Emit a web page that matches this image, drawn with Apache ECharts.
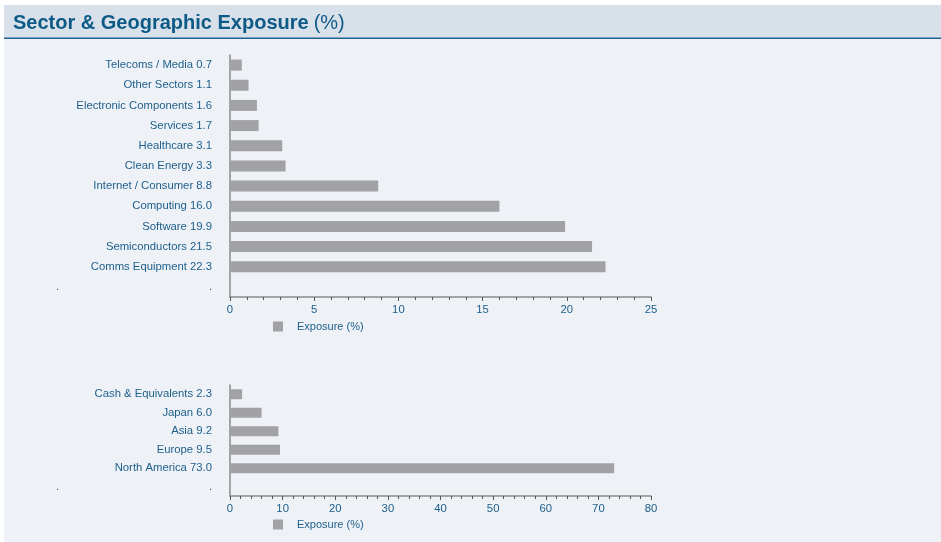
<!DOCTYPE html>
<html>
<head>
<meta charset="utf-8">
<script src="https://cdn.jsdelivr.net/npm/echarts@6/dist/echarts.min.js"></script>
<style>
  html, body { margin: 0; padding: 0; background: #fff; }
  #chart { width: 941px; height: 542px; }
</style>
</head>
<body>
<div id="chart"></div>
<script>
const sectorNames = ['Telecoms / Media', 'Other Sectors', 'Electronic Components', 'Services', 'Healthcare',
    'Clean Energy', 'Internet / Consumer', 'Computing', 'Software', 'Semiconductors', 'Comms Equipment'];
const sectorValues = [0.7, 1.1, 1.6, 1.7, 3.1, 3.3, 8.8, 16.0, 19.9, 21.5, 22.3];

const regionNames = ['Cash & Equivalents', 'Japan', 'Asia', 'Europe', 'North America'];
const regionValues = [2.3, 6.0, 9.2, 9.5, 73.0];

const textColor = '#1d5f8b';
const barColor = '#a2a1a6';
const axisColor = '#8a8a8a';
const font = 'Liberation Sans, Arial, sans-serif';

// label text is "name value"; trailing blank category shows the two stray dots
const makeCats = (names, vals) => names.map((n, i) => n + ' ' + vals[i].toFixed(1)).concat(['']);

const yAxisFor = (gridIndex, cats) => ({
    type: 'category',
    gridIndex: gridIndex,
    inverse: true,
    data: cats,
    axisLine: { lineStyle: { color: axisColor, width: 1.5 } },
    axisTick: { show: false },
    axisLabel: {
        color: textColor,
        fontSize: 11.3,
        fontFamily: font,
        margin: 18,
        formatter: v => v === '' ? '{d|.}{g|}{d|.}' : v,
        rich: {
            d: { color: textColor, fontSize: 11 },
            g: { width: 150 }
        }
    }
});

const xAxisFor = (gridIndex, max, interval) => ({
    type: 'value',
    gridIndex: gridIndex,
    min: 0,
    max: max,
    interval: interval,
    splitLine: { show: false },
    axisLine: { show: true, lineStyle: { color: axisColor, width: 1.5 } },
    axisTick: { show: true, length: 4, lineStyle: { color: '#555' } },
    minorTick: { show: true, splitNumber: 5, length: 3, lineStyle: { color: '#555' } },
    axisLabel: { color: textColor, fontSize: 11.3, fontFamily: font, margin: 7 }
});

const legendFor = (top) => ({
    top: top,
    left: 268,
    data: ['Exposure (%)'],
    itemWidth: 10,
    itemHeight: 10,
    itemGap: 10,
    selectedMode: false,
    icon: 'rect',
    textStyle: { color: textColor, fontSize: 11, fontFamily: font, padding: [0, 0, 0, 9] }
});

const myChart = echarts.init(document.getElementById('chart'));
myChart.setOption({
    backgroundColor: '#ffffff',
    animation: false,
    graphic: [
        { type: 'rect', shape: { x: 4, y: 5, width: 937, height: 537 }, style: { fill: '#eef1f6' }, z: -10 },
        { type: 'rect', shape: { x: 4, y: 5, width: 937, height: 33 }, style: { fill: '#d8e1ea' }, z: -9 },
        { type: 'rect', shape: { x: 4, y: 37.5, width: 937, height: 1.5 }, style: { fill: '#1f6392' }, z: -8 }
    ],
    title: {
        text: '{b|Sector & Geographic Exposure} {n|(%)}',
        left: 8,
        top: 8,
        textStyle: {
            fontWeight: 'normal',
            rich: {
                b: { fontSize: 20, fontWeight: 'bold', color: '#0e5a87', fontFamily: font },
                n: { fontSize: 20, fontWeight: 'normal', color: '#0e5a87', fontFamily: font }
            }
        }
    },
    legend: [legendFor(316), legendFor(514)],
    grid: [
        { left: 230, width: 421, top: 55, height: 242 },
        { left: 230, width: 421, top: 385, height: 111 }
    ],
    xAxis: [xAxisFor(0, 25, 5), xAxisFor(1, 80, 10)],
    yAxis: [yAxisFor(0, makeCats(sectorNames, sectorValues)), yAxisFor(1, makeCats(regionNames, regionValues))],
    series: [
        {
            name: 'Exposure (%)', type: 'bar', xAxisIndex: 0, yAxisIndex: 0,
            data: sectorValues, barWidth: 11, itemStyle: { color: barColor }
        },
        {
            name: 'Exposure (%)', type: 'bar', xAxisIndex: 1, yAxisIndex: 1,
            data: regionValues, barWidth: 10, itemStyle: { color: barColor }
        }
    ]
});
</script>
</body>
</html>
